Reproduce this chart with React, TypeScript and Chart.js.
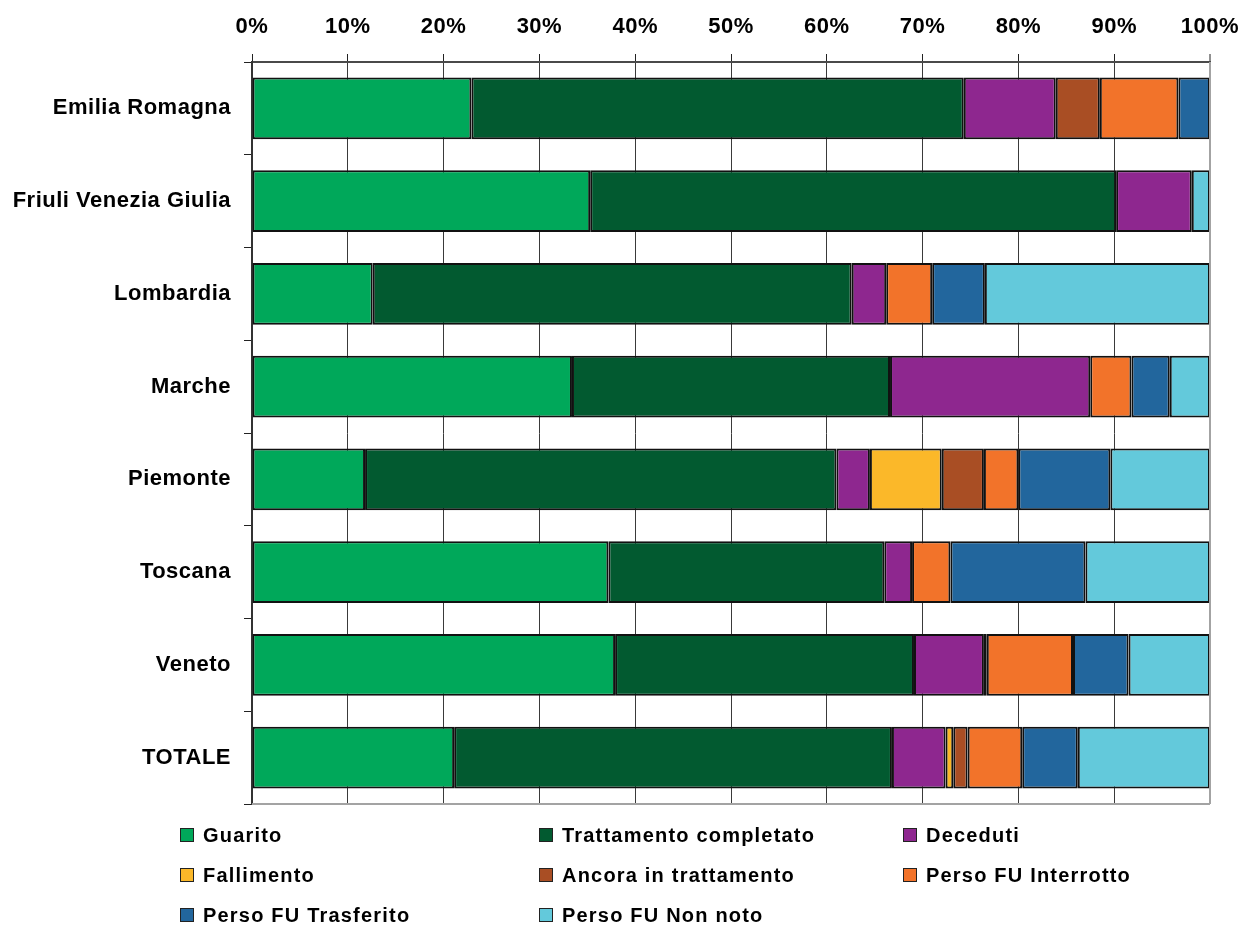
import React, { useEffect, useRef } from "react";
import { Chart, registerables } from "chart.js";

Chart.register(...registerables);

const categories = [
  "Emilia Romagna",
  "Friuli Venezia Giulia",
  "Lombardia",
  "Marche",
  "Piemonte",
  "Toscana",
  "Veneto",
  "TOTALE",
];

const seriesNames = [
  "Guarito",
  "Trattamento completato",
  "Deceduti",
  "Fallimento",
  "Ancora in trattamento",
  "Perso FU Interrotto",
  "Perso FU Trasferito",
  "Perso FU Non noto",
];

const seriesColors = [
  "#00A85A",
  "#025A30",
  "#8E278F",
  "#FBB829",
  "#A94E24",
  "#F2732A",
  "#22669D",
  "#63C9DB",
];

const guarito = [22.9, 35.3, 12.6, 33.4, 11.8, 37.2, 37.9, 21.1];
const trattamentoCompletato = [51.4, 54.9, 50.0, 33.2, 49.2, 28.8, 31.2, 45.7];
const deceduti = [9.6, 7.9, 3.6, 20.9, 3.5, 2.9, 7.3, 5.6];
const fallimento = [null, null, null, null, 7.5, null, null, 0.8];
const ancoraInTrattamento = [4.6, null, null, null, 4.4, null, 0.3, 1.5];
const persoInterrotto = [8.2, null, 4.8, 4.3, 3.6, 4.0, 9.0, 5.7];
const persoTrasferito = [3.3, null, 5.5, 4.0, 9.6, 14.1, 5.8, 5.8];
const persoNonNoto = [null, 1.9, 23.5, 4.2, 10.4, 13.0, 8.5, 13.8];

const seriesValues = [
  guarito,
  trattamentoCompletato,
  deceduti,
  fallimento,
  ancoraInTrattamento,
  persoInterrotto,
  persoTrasferito,
  persoNonNoto,
];

const xTickLabels = ["0%", "10%", "20%", "30%", "40%", "50%", "60%", "70%", "80%", "90%", "100%"];

const FONT = '"Liberation Sans", Arial, sans-serif';

// legend layout: column x of the swatch, row centre y
const legendCols = [180, 539, 903];
const legendRows = [835, 875, 915];

export default function App() {
  const canvasRef = useRef<HTMLCanvasElement | null>(null);

  useEffect(() => {
    const canvas = canvasRef.current;
    if (!canvas) return;

    const spacingPlugin = {
      id: "spacing",
      beforeUpdate(chart: any) {
        try {
          chart.ctx.letterSpacing = "0.5px";
        } catch (e) {}
      },
      beforeDraw(chart: any) {
        try {
          chart.ctx.letterSpacing = "0.5px";
        } catch (e) {}
      },
    };

    const bottomBorder = {
      id: "bottomBorder",
      afterDatasetsDraw(chart: any) {
        const { ctx, chartArea } = chart;
        ctx.save();
        ctx.strokeStyle = "#a3a3a3";
        ctx.lineWidth = 2;
        ctx.beginPath();
        ctx.moveTo(chartArea.left, chartArea.bottom);
        ctx.lineTo(chartArea.right, chartArea.bottom);
        ctx.stroke();
        ctx.beginPath();
        ctx.moveTo(chartArea.right, chartArea.top);
        ctx.lineTo(chartArea.right, chartArea.bottom);
        ctx.stroke();
        ctx.restore();
      },
    };

    const chart = new Chart(canvas, {
      type: "bar",
      data: {
        labels: categories,
        datasets: seriesNames.map((name, i) => ({
          label: name,
          data: seriesValues[i] as any,
          backgroundColor: seriesColors[i],
          borderColor: "#111111",
          borderWidth: 2,
          borderSkipped: false,
          barPercentage: 0.668,
          categoryPercentage: 1,
        })),
      },
      options: {
        indexAxis: "y",
        responsive: false,
        animation: false,
        layout: { padding: { left: 0, right: 37, top: 0, bottom: 122 } },
        plugins: {
          legend: { display: false },
          tooltip: { enabled: false },
        },
        scales: {
          x: {
            type: "linear",
            position: "top",
            stacked: true,
            min: 0,
            max: 100,
            afterFit: (scale: any) => {
              scale.height = 62;
              scale.paddingLeft = 0;
              scale.paddingRight = 0;
            },
            ticks: {
              stepSize: 10,
              padding: 14,
              color: "#000",
              font: { family: FONT, size: 22, weight: "bold" },
              callback: (_v: any, idx: number) => xTickLabels[idx],
              maxRotation: 0,
            },
            grid: {
              color: (ctx: any) => (ctx.tick && ctx.tick.value === 100 ? "#a3a3a3" : "#3a3a3a"),
              lineWidth: (ctx: any) => (ctx.tick && ctx.tick.value === 100 ? 2 : 1),
              tickColor: "#222",
              tickWidth: 1,
              tickLength: 8,
              drawTicks: true,
            },
            border: { display: true, color: "#4a4a4a", width: 2 },
          },
          y: {
            stacked: true,
            afterFit: (scale: any) => {
              scale.width = 252;
            },
            ticks: {
              padding: 13,
              color: "#000",
              font: { family: FONT, size: 22, weight: "bold" },
            },
            grid: {
              offset: true,
              drawOnChartArea: false,
              drawTicks: true,
              tickLength: 8,
              tickColor: "#222",
              tickWidth: 1,
            },
            border: { display: true, color: "#333", width: 2 },
          },
        },
      },
      plugins: [spacingPlugin, bottomBorder],
    } as any);

    return () => chart.destroy();
  }, []);

  return (
    <div
      style={{
        position: "absolute",
        left: 0,
        top: 0,
        width: 1247,
        height: 926,
        overflow: "hidden",
        background: "#fff",
      }}
    >
      <canvas
        ref={canvasRef}
        width={1247}
        height={926}
        style={{ position: "absolute", left: 0, top: 0, width: 1247, height: 926 }}
      />
      {seriesNames.map((name, i) => {
        const col = i % 3;
        const row = Math.floor(i / 3);
        return (
          <div
            key={name}
            style={{
              position: "absolute",
              left: legendCols[col],
              top: legendRows[row] - 10,
              height: 20,
              display: "flex",
              alignItems: "center",
              whiteSpace: "nowrap",
            }}
          >
            <span
              style={{
                display: "inline-block",
                boxSizing: "border-box",
                width: 14,
                height: 14,
                background: seriesColors[i],
                border: "1.5px solid #222",
                marginRight: 9,
              }}
            />
            <span
              style={{
                fontFamily: FONT,
                fontWeight: "bold",
                fontSize: "20px",
                lineHeight: "20px",
                letterSpacing: "1.2px",
                color: "#000",
              }}
            >
              {name}
            </span>
          </div>
        );
      })}
    </div>
  );
}
